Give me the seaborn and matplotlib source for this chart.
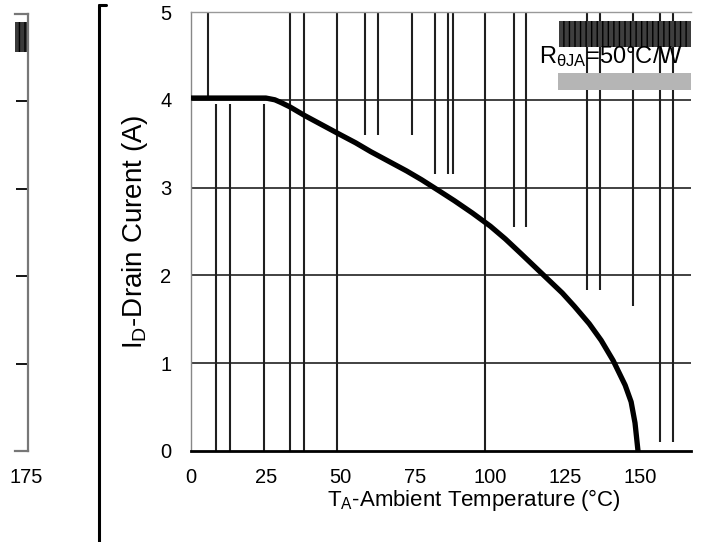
import matplotlib
matplotlib.use("Agg")
import matplotlib.pyplot as plt
from matplotlib.patches import Rectangle
from matplotlib.lines import Line2D
import seaborn as sns
import pandas as pd

# ---- data ----
temp_c = [0, 10, 20, 25, 28, 30, 33, 38, 44, 50, 55, 60, 66, 72, 77, 83, 88, 94, 100,
          105, 110, 116, 120, 124, 128, 133, 137, 141, 145, 147, 148.3, 149.3]
drain_a = [4.02, 4.02, 4.02, 4.02, 4.0, 3.97, 3.92, 3.82, 3.71, 3.60, 3.51, 3.41, 3.30,
           3.19, 3.09, 2.96, 2.85, 2.71, 2.56, 2.415, 2.255, 2.06, 1.93, 1.80, 1.65, 1.45,
           1.26, 1.03, 0.75, 0.56, 0.32, 0.0]
x_ticks = [0, 25, 50, 75, 100, 125, 150]
y_ticks = [0, 1, 2, 3, 4, 5]
grid_levels = [1, 2, 3, 4]
# vertical scan lines seen in the reference (x, lower end, upper end)
vline_x = [5.6, 8.3, 13.0, 24.3, 33.2, 37.9, 48.8, 58.1, 62.5, 73.8, 81.4, 85.7, 87.4,
           98.3, 108.0, 112.0, 132.2, 136.5, 147.5, 156.8, 161.1]
vline_lo = [4.0, 0.0, 0.0, 0.0, 0.0, 0.0, 0.0, 3.6, 3.6, 3.6, 3.15, 3.15, 3.15,
            0.0, 2.55, 2.55, 1.83, 1.83, 1.65, 0.1, 0.1]
vline_hi = [5.0, 3.95, 3.95, 3.95, 5.0, 5.0, 5.0, 5.0, 5.0, 5.0, 5.0, 5.0, 5.0,
            5.0, 5.0, 5.0, 5.0, 5.0, 5.0, 5.0, 5.0]
note_text = r"R$_{\mathrm{\theta JA}}$=50°C/W"
x_label = r"T$_{\mathrm{A}}$-Ambient Temperature (°C)"
y_label = r"I$_{\mathrm{D}}$-Drain Curent (A)"
prev_tick = [175]
prev_levels = [1, 2, 3, 4]

df = pd.DataFrame({"T": temp_c, "I": drain_a})

sns.set_theme(style="white")
plt.rcParams["font.family"] = ["Liberation Sans", "DejaVu Sans"]
plt.rcParams["mathtext.fontset"] = "custom"
plt.rcParams["mathtext.rm"] = "Liberation Sans"
plt.rcParams["mathtext.it"] = "Liberation Sans:italic"
plt.rcParams["mathtext.bf"] = "Liberation Sans:bold"

W, H = 711, 542
fig = plt.figure(figsize=(W / 100, H / 100), dpi=100)
fig.patch.set_facecolor("white")

# ---- main axes ----
L, R, T, B = 191, 691, 12, 451
ax = fig.add_axes([L / W, 1 - B / H, (R - L) / W, (B - T) / H])
ax.set_xlim(0, 167)
ax.set_ylim(0, 5)

for g in grid_levels:
    ax.axhline(g, color="#333333", lw=1.3, zorder=1)
ax.vlines(vline_x, vline_lo, vline_hi, colors="#1f1f1f", lw=1.5, zorder=1)

ax.add_patch(Rectangle((123, 4.60), 45, 0.30, facecolor="#3f3f3f", edgecolor="black",
                       hatch="|||", lw=0, zorder=2, clip_on=True))
ax.add_patch(Rectangle((122.5, 4.11), 45.5, 0.19, facecolor="#b5b5b5", lw=0, zorder=2))

sns.lineplot(data=df, x="T", y="I", ax=ax, color="black", lw=3.8, zorder=5)

ax.text(116.3, 4.42, note_text, fontsize=17, ha="left", va="baseline", color="black", zorder=6)

ax.set_xticks(x_ticks)
ax.set_yticks(y_ticks)
ax.tick_params(axis="both", length=0, labelsize=14.5, colors="black")
ax.tick_params(axis="x", pad=12)
ax.tick_params(axis="y", pad=14)

ax.spines["right"].set_visible(False)
ax.spines["left"].set_color("#888888")
ax.spines["left"].set_linewidth(1.0)
ax.spines["top"].set_color("#999999")
ax.spines["top"].set_linewidth(1.0)
ax.spines["bottom"].set_color("black")
ax.spines["bottom"].set_linewidth(2.0)

ax.set_xlabel(x_label, fontsize=16, color="black")
ax.set_ylabel(y_label, fontsize=20, color="black")
ax.xaxis.set_label_coords((474 - L) / (R - L), (B - 487) / (B - T))
ax.yaxis.set_label_coords((150 - L) / (R - L), 0.5)

# ---- cut-off neighbouring panel on the left ----
ax0 = fig.add_axes([15 / W, 1 - B / H, 13 / W, (B - 14) / H])
ax0.set_xlim(170, 176)
ax0.set_ylim(0, 5)
ax0.set_facecolor("white")
ax0.spines["left"].set_visible(False)
for side in ["right", "top", "bottom"]:
    ax0.spines[side].set_color("#777777")
    ax0.spines[side].set_linewidth(1.6)
ax0.yaxis.tick_right()
ax0.set_yticks(prev_levels)
ax0.set_yticklabels([])
ax0.tick_params(axis="y", direction="in", length=9, width=1.3, colors="black")
ax0.set_xticks(prev_tick)
ax0.set_xticklabels([str(v) for v in prev_tick])
ax0.tick_params(axis="x", length=0, labelsize=14.5, pad=12, colors="black")
ax0.add_patch(Rectangle((170, 4.57), 6, 0.34, facecolor="#3a3a3a", edgecolor="black",
                        hatch="|||", lw=0))

# separator bracket between panels
fig.add_artist(Line2D([99 / W, 99 / W], [0, 1 - 5 / H], transform=fig.transFigure,
                      color="black", lw=2.2))
fig.add_artist(Line2D([99 / W, 106 / W], [1 - 5 / H, 1 - 5 / H], transform=fig.transFigure,
                      color="black", lw=2.2))

fig.savefig("out.png", dpi=100, facecolor="white")
